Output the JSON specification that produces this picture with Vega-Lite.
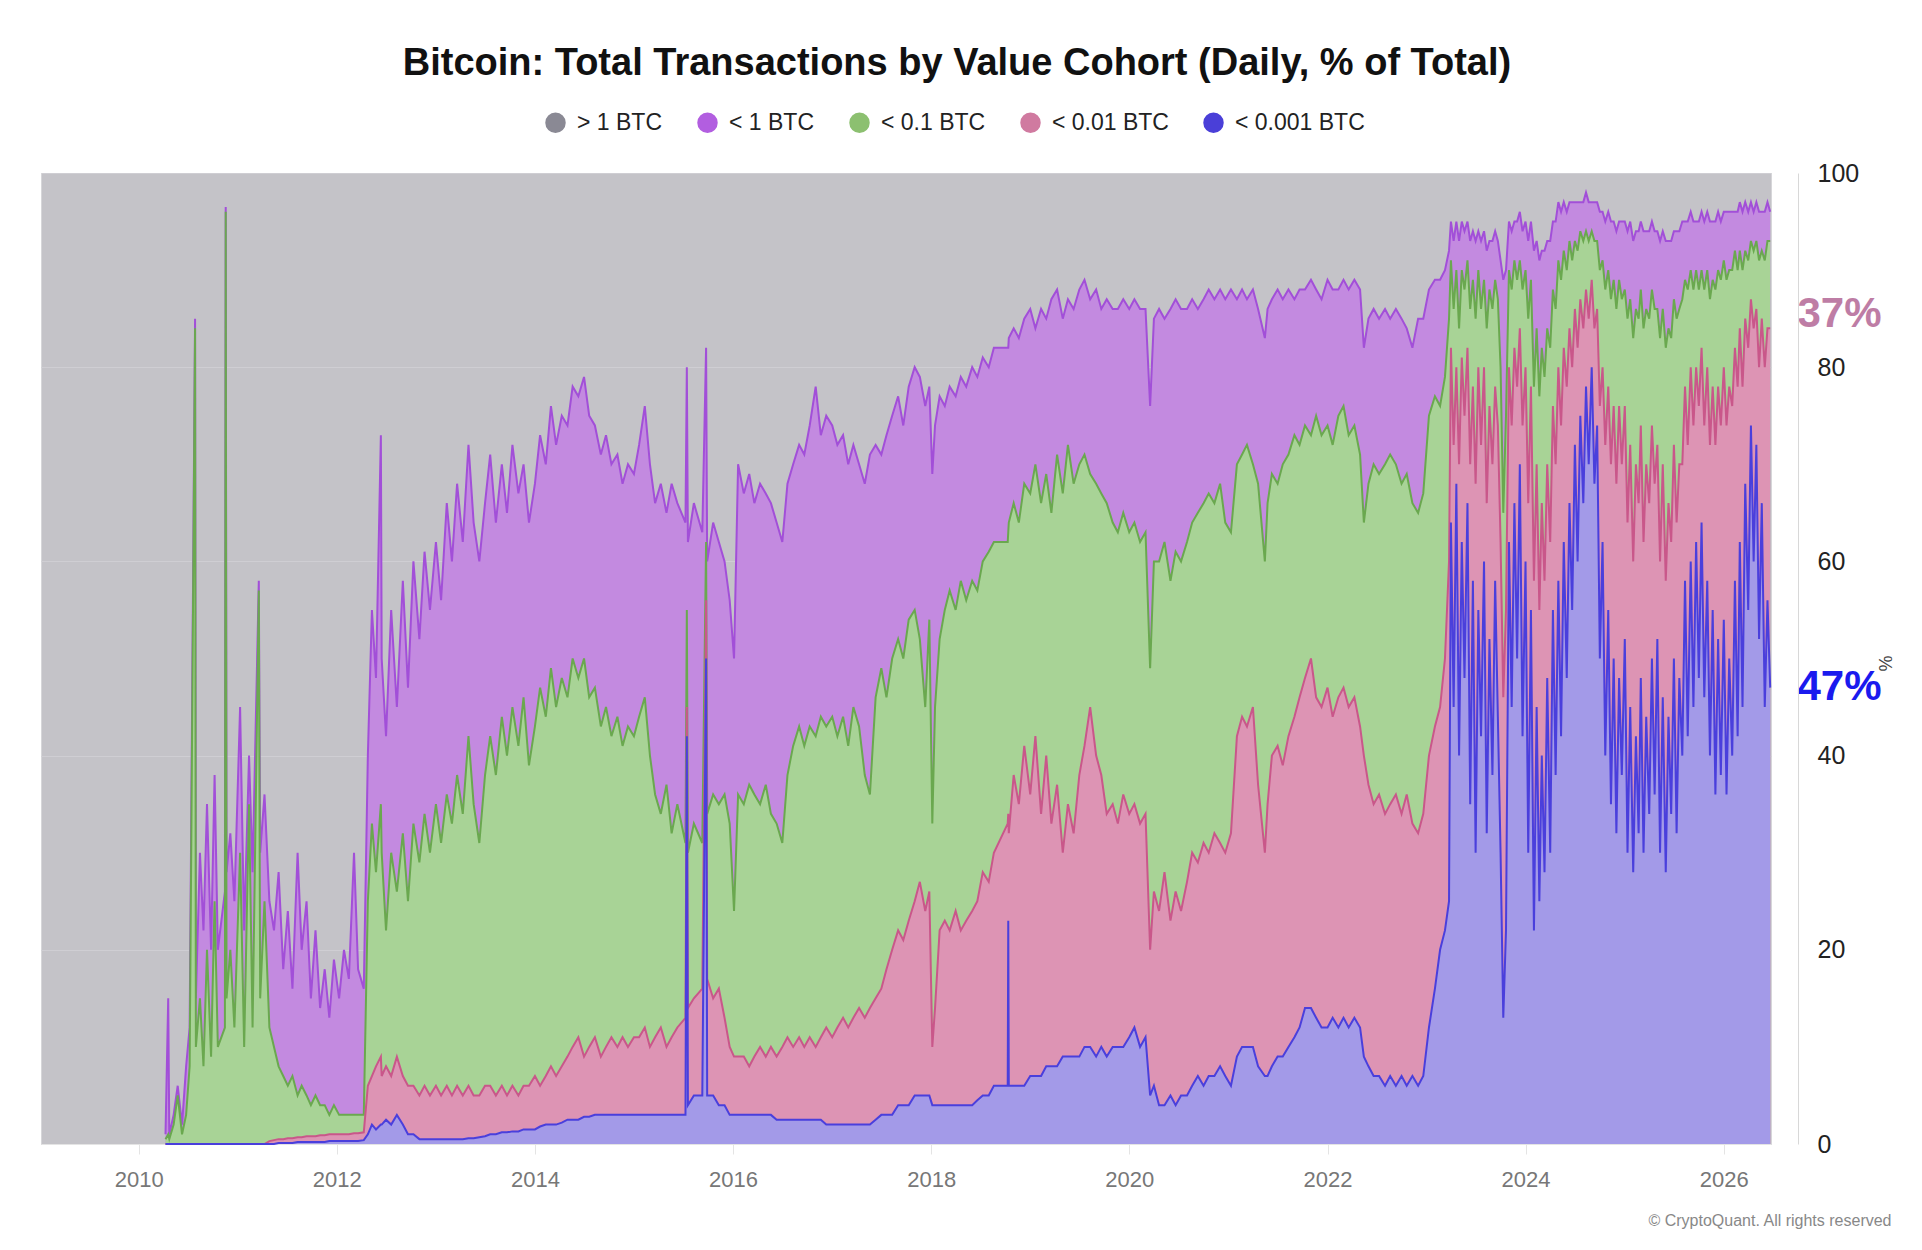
{
  "$schema": "https://vega.github.io/schema/vega-lite/v6.json",
  "width": 1730,
  "height": 971,
  "autosize": {"type": "none"},
  "padding": {"left": 41, "top": 173, "right": 151, "bottom": 106},
  "background": "white",
  "config": {
    "view": {"fill": "#c4c3c8", "stroke": "#d6d6d9"},
    "font": "Liberation Sans Narrow, Liberation Sans"
  },
  "title": {
    "text": "Bitcoin: Total Transactions by Value Cohort (Daily, % of Total)",
    "anchor": "middle",
    "frame": "group",
    "dx": 51,
    "offset": 28,
    "font": "Liberation Sans Narrow, Liberation Sans",
    "fontSize": 38,
    "fontWeight": "bold",
    "color": "#111111"
  },
  "datasets": {
    "tx": [
      {"d":"2010-04-10","a":0,"b":0,"c":0.5,"p":1},
      {"d":"2010-04-20","a":0,"b":0,"c":1,"p":15},
      {"d":"2010-04-24","a":0,"b":0,"c":0.5,"p":1},
      {"d":"2010-05-10","a":0,"b":0,"c":2,"p":3},
      {"d":"2010-05-25","a":0,"b":0,"c":5,"p":6},
      {"d":"2010-06-10","a":0,"b":0,"c":1,"p":2},
      {"d":"2010-06-25","a":0,"b":0,"c":3,"p":8},
      {"d":"2010-07-08","a":0,"b":0,"c":8,"p":12},
      {"d":"2010-07-28","a":0,"b":0,"c":84,"p":85},
      {"d":"2010-07-31","a":0,"b":0,"c":10,"p":15},
      {"d":"2010-08-15","a":0,"b":0,"c":15,"p":30},
      {"d":"2010-08-28","a":0,"b":0,"c":8,"p":22},
      {"d":"2010-09-10","a":0,"b":0,"c":20,"p":35},
      {"d":"2010-09-25","a":0,"b":0,"c":9,"p":20},
      {"d":"2010-10-08","a":0,"b":0,"c":25,"p":38},
      {"d":"2010-10-20","a":0,"b":0,"c":10,"p":20},
      {"d":"2010-11-15","a":0,"b":0,"c":12,"p":26},
      {"d":"2010-11-18","a":0,"b":0,"c":96,"p":96.5},
      {"d":"2010-11-21","a":0,"b":0,"c":15,"p":28},
      {"d":"2010-12-05","a":0,"b":0,"c":20,"p":32},
      {"d":"2010-12-20","a":0,"b":0,"c":12,"p":25},
      {"d":"2011-01-10","a":0,"b":0,"c":30,"p":45},
      {"d":"2011-01-25","a":0,"b":0,"c":10,"p":22},
      {"d":"2011-02-12","a":0,"b":0,"c":35,"p":40},
      {"d":"2011-02-25","a":0,"b":0,"c":12,"p":28},
      {"d":"2011-03-20","a":0,"b":0,"c":57,"p":58},
      {"d":"2011-03-25","a":0,"b":0,"c":15,"p":30},
      {"d":"2011-04-10","a":0,"b":0,"c":25,"p":36},
      {"d":"2011-04-28","a":0,"b":0.3,"c":12,"p":25},
      {"d":"2011-05-15","a":0,"b":0.4,"c":10,"p":22},
      {"d":"2011-06-01","a":0.1,"b":0.5,"c":8,"p":28},
      {"d":"2011-06-18","a":0.1,"b":0.5,"c":7,"p":18},
      {"d":"2011-07-05","a":0.1,"b":0.6,"c":6,"p":24},
      {"d":"2011-07-22","a":0.1,"b":0.6,"c":7,"p":16},
      {"d":"2011-08-10","a":0.2,"b":0.7,"c":5,"p":30},
      {"d":"2011-08-25","a":0.2,"b":0.7,"c":6,"p":20},
      {"d":"2011-09-12","a":0.2,"b":0.8,"c":5,"p":25},
      {"d":"2011-09-28","a":0.2,"b":0.8,"c":4,"p":15},
      {"d":"2011-10-15","a":0.2,"b":0.8,"c":5,"p":22},
      {"d":"2011-11-01","a":0.2,"b":0.9,"c":4,"p":14},
      {"d":"2011-11-18","a":0.2,"b":0.9,"c":4,"p":18},
      {"d":"2011-12-05","a":0.3,"b":1,"c":3,"p":13},
      {"d":"2011-12-22","a":0.3,"b":1,"c":4,"p":19},
      {"d":"2012-01-10","a":0.3,"b":1,"c":3,"p":15},
      {"d":"2012-01-28","a":0.3,"b":1,"c":3,"p":20},
      {"d":"2012-02-15","a":0.3,"b":1,"c":3,"p":17},
      {"d":"2012-03-05","a":0.3,"b":1.1,"c":3,"p":30},
      {"d":"2012-03-20","a":0.3,"b":1.1,"c":3,"p":18},
      {"d":"2012-04-10","a":0.4,"b":1.2,"c":3,"p":16},
      {"d":"2012-04-25","a":1,"b":6,"c":25,"p":40},
      {"d":"2012-05-10","a":2,"b":7,"c":33,"p":55},
      {"d":"2012-05-25","a":1.5,"b":8,"c":28,"p":48},
      {"d":"2012-06-12","a":2,"b":9,"c":35,"p":73},
      {"d":"2012-06-15","a":2,"b":7,"c":30,"p":50},
      {"d":"2012-07-01","a":2.5,"b":8,"c":22,"p":42},
      {"d":"2012-07-20","a":2,"b":7,"c":30,"p":55},
      {"d":"2012-08-10","a":3,"b":9,"c":26,"p":45},
      {"d":"2012-09-01","a":2,"b":7,"c":32,"p":58},
      {"d":"2012-09-20","a":1,"b":6,"c":25,"p":47},
      {"d":"2012-10-10","a":1,"b":6,"c":33,"p":60},
      {"d":"2012-11-01","a":0.5,"b":5,"c":29,"p":52},
      {"d":"2012-11-20","a":0.5,"b":6,"c":34,"p":61},
      {"d":"2012-12-10","a":0.5,"b":5,"c":30,"p":55},
      {"d":"2013-01-01","a":0.5,"b":6,"c":35,"p":62},
      {"d":"2013-01-20","a":0.5,"b":5,"c":31,"p":56},
      {"d":"2013-02-10","a":0.5,"b":6,"c":36,"p":66},
      {"d":"2013-03-01","a":0.5,"b":5,"c":33,"p":60},
      {"d":"2013-03-20","a":0.5,"b":6,"c":38,"p":68},
      {"d":"2013-04-10","a":0.5,"b":5,"c":34,"p":62},
      {"d":"2013-05-01","a":0.6,"b":6,"c":42,"p":72},
      {"d":"2013-05-20","a":0.6,"b":5,"c":35,"p":64},
      {"d":"2013-06-10","a":0.7,"b":5,"c":31,"p":60},
      {"d":"2013-07-01","a":0.8,"b":6,"c":38,"p":66},
      {"d":"2013-07-20","a":1,"b":6,"c":42,"p":71},
      {"d":"2013-08-10","a":1,"b":5,"c":38,"p":64},
      {"d":"2013-09-01","a":1.2,"b":6,"c":44,"p":70},
      {"d":"2013-09-20","a":1.2,"b":5,"c":40,"p":65},
      {"d":"2013-10-10","a":1.3,"b":6,"c":45,"p":72},
      {"d":"2013-11-01","a":1.3,"b":5,"c":41,"p":67},
      {"d":"2013-11-20","a":1.5,"b":6,"c":46,"p":70},
      {"d":"2013-12-10","a":1.5,"b":6,"c":39,"p":64},
      {"d":"2014-01-01","a":1.5,"b":7,"c":43,"p":68},
      {"d":"2014-01-20","a":1.8,"b":6,"c":47,"p":73},
      {"d":"2014-02-10","a":2,"b":7,"c":44,"p":70},
      {"d":"2014-03-01","a":2,"b":8,"c":49,"p":76},
      {"d":"2014-03-20","a":2,"b":7,"c":45,"p":72},
      {"d":"2014-04-10","a":2.2,"b":8,"c":48,"p":75},
      {"d":"2014-05-01","a":2.5,"b":9,"c":46,"p":74},
      {"d":"2014-05-20","a":2.5,"b":10,"c":50,"p":78},
      {"d":"2014-06-10","a":2.5,"b":11,"c":48,"p":77},
      {"d":"2014-07-01","a":2.8,"b":9,"c":50,"p":79},
      {"d":"2014-07-20","a":2.8,"b":10,"c":46,"p":75},
      {"d":"2014-08-10","a":3,"b":11,"c":47,"p":74},
      {"d":"2014-09-01","a":3,"b":9,"c":43,"p":71},
      {"d":"2014-09-20","a":3,"b":10,"c":45,"p":73},
      {"d":"2014-10-10","a":3,"b":11,"c":42,"p":70},
      {"d":"2014-11-01","a":3,"b":10,"c":44,"p":71},
      {"d":"2014-11-20","a":3,"b":11,"c":41,"p":68},
      {"d":"2014-12-10","a":3,"b":10,"c":43,"p":70},
      {"d":"2015-01-01","a":3,"b":11,"c":42,"p":69},
      {"d":"2015-01-20","a":3,"b":11,"c":44,"p":72},
      {"d":"2015-02-10","a":3,"b":12,"c":46,"p":76},
      {"d":"2015-03-01","a":3,"b":10,"c":40,"p":70},
      {"d":"2015-03-20","a":3,"b":11,"c":36,"p":66},
      {"d":"2015-04-10","a":3,"b":12,"c":34,"p":68},
      {"d":"2015-05-01","a":3,"b":10,"c":37,"p":65},
      {"d":"2015-05-20","a":3,"b":11,"c":32,"p":68},
      {"d":"2015-06-10","a":3,"b":12,"c":35,"p":66},
      {"d":"2015-07-10","a":3,"b":13,"c":31,"p":64},
      {"d":"2015-07-15","a":42,"b":45,"c":55,"p":80},
      {"d":"2015-07-19","a":4,"b":14,"c":30,"p":62},
      {"d":"2015-08-10","a":5,"b":15,"c":33,"p":66},
      {"d":"2015-09-10","a":5,"b":16,"c":31,"p":63},
      {"d":"2015-09-24","a":50,"b":56,"c":62,"p":82},
      {"d":"2015-09-28","a":5,"b":17,"c":34,"p":60},
      {"d":"2015-10-20","a":5,"b":15,"c":36,"p":64},
      {"d":"2015-11-10","a":4,"b":16,"c":35,"p":62},
      {"d":"2015-12-01","a":4,"b":13,"c":36,"p":60},
      {"d":"2015-12-20","a":3,"b":10,"c":33,"p":56},
      {"d":"2016-01-05","a":3,"b":9,"c":24,"p":50},
      {"d":"2016-01-20","a":3,"b":9,"c":36,"p":70},
      {"d":"2016-02-10","a":3,"b":9,"c":35,"p":67},
      {"d":"2016-03-01","a":3,"b":8,"c":37,"p":69},
      {"d":"2016-03-20","a":3,"b":9,"c":36,"p":66},
      {"d":"2016-04-10","a":3,"b":10,"c":35,"p":68},
      {"d":"2016-05-01","a":3,"b":9,"c":37,"p":67},
      {"d":"2016-05-20","a":3,"b":10,"c":34,"p":66},
      {"d":"2016-06-10","a":2.5,"b":9,"c":33,"p":64},
      {"d":"2016-07-01","a":2.5,"b":10,"c":31,"p":62},
      {"d":"2016-07-20","a":2.5,"b":11,"c":38,"p":68},
      {"d":"2016-08-10","a":2.5,"b":10,"c":41,"p":70},
      {"d":"2016-09-01","a":2.5,"b":11,"c":43,"p":72},
      {"d":"2016-09-20","a":2.5,"b":10,"c":41,"p":71},
      {"d":"2016-10-10","a":2.5,"b":11,"c":43,"p":74},
      {"d":"2016-11-01","a":2.5,"b":10,"c":42,"p":78},
      {"d":"2016-11-20","a":2.5,"b":11,"c":44,"p":73},
      {"d":"2016-12-10","a":2,"b":12,"c":43,"p":75},
      {"d":"2017-01-01","a":2,"b":11,"c":44,"p":74},
      {"d":"2017-01-20","a":2,"b":12,"c":42,"p":72},
      {"d":"2017-02-10","a":2,"b":13,"c":44,"p":73},
      {"d":"2017-03-01","a":2,"b":12,"c":41,"p":70},
      {"d":"2017-03-20","a":2,"b":13,"c":45,"p":72},
      {"d":"2017-04-10","a":2,"b":14,"c":43,"p":70},
      {"d":"2017-05-01","a":2,"b":13,"c":38,"p":68},
      {"d":"2017-05-20","a":2,"b":14,"c":36,"p":71},
      {"d":"2017-06-10","a":2.5,"b":15,"c":46,"p":72},
      {"d":"2017-07-01","a":3,"b":16,"c":49,"p":71},
      {"d":"2017-07-20","a":3,"b":18,"c":46,"p":73},
      {"d":"2017-08-10","a":3,"b":20,"c":50,"p":75},
      {"d":"2017-09-01","a":4,"b":22,"c":52,"p":77},
      {"d":"2017-09-20","a":4,"b":21,"c":50,"p":74},
      {"d":"2017-10-10","a":4,"b":23,"c":54,"p":78},
      {"d":"2017-11-01","a":5,"b":25,"c":55,"p":80},
      {"d":"2017-11-20","a":5,"b":27,"c":52,"p":79},
      {"d":"2017-12-10","a":5,"b":24,"c":45,"p":76},
      {"d":"2017-12-25","a":5,"b":26,"c":54,"p":78},
      {"d":"2018-01-05","a":4,"b":10,"c":33,"p":69},
      {"d":"2018-01-15","a":4,"b":14,"c":45,"p":74},
      {"d":"2018-02-01","a":4,"b":22,"c":52,"p":77},
      {"d":"2018-02-20","a":4,"b":23,"c":55,"p":76},
      {"d":"2018-03-10","a":4,"b":22,"c":57,"p":78},
      {"d":"2018-04-01","a":4,"b":24,"c":55,"p":77},
      {"d":"2018-04-20","a":4,"b":22,"c":58,"p":79},
      {"d":"2018-05-10","a":4,"b":23,"c":56,"p":78},
      {"d":"2018-06-01","a":4,"b":24,"c":58,"p":80},
      {"d":"2018-06-20","a":4.5,"b":25,"c":57,"p":79},
      {"d":"2018-07-10","a":5,"b":28,"c":60,"p":81},
      {"d":"2018-08-01","a":5,"b":27,"c":61,"p":80},
      {"d":"2018-08-20","a":6,"b":30,"c":62,"p":82},
      {"d":"2018-10-10","a":6,"b":33,"c":62,"p":82},
      {"d":"2018-10-12","a":23,"b":34,"c":63,"p":82},
      {"d":"2018-10-14","a":6,"b":32,"c":64,"p":83},
      {"d":"2018-11-01","a":6,"b":38,"c":66,"p":84},
      {"d":"2018-11-20","a":6,"b":35,"c":64,"p":83},
      {"d":"2018-12-10","a":6,"b":41,"c":68,"p":85},
      {"d":"2019-01-01","a":7,"b":36,"c":67,"p":86},
      {"d":"2019-01-20","a":7,"b":42,"c":70,"p":84},
      {"d":"2019-02-10","a":7,"b":34,"c":66,"p":86},
      {"d":"2019-03-01","a":8,"b":40,"c":69,"p":85},
      {"d":"2019-03-20","a":8,"b":33,"c":65,"p":87},
      {"d":"2019-04-10","a":8,"b":37,"c":71,"p":88},
      {"d":"2019-05-01","a":9,"b":30,"c":67,"p":85},
      {"d":"2019-05-20","a":9,"b":35,"c":72,"p":87},
      {"d":"2019-06-10","a":9,"b":32,"c":68,"p":86},
      {"d":"2019-07-01","a":9,"b":38,"c":70,"p":88},
      {"d":"2019-07-20","a":10,"b":41,"c":71,"p":89},
      {"d":"2019-08-10","a":10,"b":45,"c":69,"p":87},
      {"d":"2019-09-01","a":9,"b":40,"c":68,"p":88},
      {"d":"2019-09-20","a":10,"b":38,"c":67,"p":86},
      {"d":"2019-10-10","a":9,"b":34,"c":66,"p":87},
      {"d":"2019-11-01","a":10,"b":35,"c":64,"p":86},
      {"d":"2019-11-20","a":10,"b":33,"c":63,"p":86},
      {"d":"2019-12-10","a":10,"b":36,"c":65,"p":87},
      {"d":"2020-01-01","a":11,"b":34,"c":63,"p":86},
      {"d":"2020-01-20","a":12,"b":35,"c":64,"p":87},
      {"d":"2020-02-10","a":10,"b":33,"c":62,"p":86},
      {"d":"2020-03-01","a":11,"b":34,"c":63,"p":86},
      {"d":"2020-03-18","a":5,"b":20,"c":49,"p":76},
      {"d":"2020-04-01","a":6,"b":26,"c":60,"p":85},
      {"d":"2020-04-20","a":4,"b":24,"c":60,"p":86},
      {"d":"2020-05-10","a":4,"b":28,"c":62,"p":85},
      {"d":"2020-06-01","a":5,"b":23,"c":58,"p":86},
      {"d":"2020-06-20","a":4,"b":26,"c":61,"p":87},
      {"d":"2020-07-10","a":5,"b":24,"c":60,"p":86},
      {"d":"2020-08-01","a":5,"b":27,"c":62,"p":86},
      {"d":"2020-08-20","a":6,"b":30,"c":64,"p":87},
      {"d":"2020-09-10","a":7,"b":29,"c":65,"p":86},
      {"d":"2020-10-01","a":6,"b":31,"c":66,"p":87},
      {"d":"2020-10-20","a":7,"b":30,"c":67,"p":88},
      {"d":"2020-11-10","a":7,"b":32,"c":66,"p":87},
      {"d":"2020-12-01","a":8,"b":31,"c":68,"p":88},
      {"d":"2020-12-20","a":7,"b":30,"c":64,"p":87},
      {"d":"2021-01-10","a":6,"b":32,"c":63,"p":88},
      {"d":"2021-02-01","a":9,"b":42,"c":70,"p":87},
      {"d":"2021-02-20","a":10,"b":44,"c":71,"p":88},
      {"d":"2021-03-10","a":10,"b":43,"c":72,"p":87},
      {"d":"2021-04-01","a":10,"b":45,"c":70,"p":88},
      {"d":"2021-04-20","a":8,"b":37,"c":68,"p":86},
      {"d":"2021-05-15","a":7,"b":30,"c":60,"p":83},
      {"d":"2021-05-25","a":7,"b":35,"c":66,"p":86},
      {"d":"2021-06-10","a":8,"b":40,"c":69,"p":87},
      {"d":"2021-07-01","a":9,"b":41,"c":68,"p":88},
      {"d":"2021-07-20","a":9,"b":39,"c":70,"p":87},
      {"d":"2021-08-10","a":10,"b":42,"c":71,"p":88},
      {"d":"2021-09-01","a":11,"b":44,"c":73,"p":87},
      {"d":"2021-09-20","a":12,"b":46,"c":72,"p":88},
      {"d":"2021-10-10","a":14,"b":48,"c":74,"p":88},
      {"d":"2021-11-01","a":14,"b":50,"c":73,"p":89},
      {"d":"2021-11-20","a":13,"b":46,"c":75,"p":88},
      {"d":"2021-12-10","a":12,"b":45,"c":73,"p":87},
      {"d":"2022-01-01","a":12,"b":47,"c":74,"p":89},
      {"d":"2022-01-20","a":13,"b":44,"c":72,"p":88},
      {"d":"2022-02-10","a":12,"b":46,"c":75,"p":88},
      {"d":"2022-03-01","a":13,"b":47,"c":76,"p":89},
      {"d":"2022-03-20","a":12,"b":45,"c":73,"p":88},
      {"d":"2022-04-10","a":13,"b":46,"c":74,"p":89},
      {"d":"2022-05-01","a":12,"b":43,"c":71,"p":88},
      {"d":"2022-05-15","a":9,"b":40,"c":64,"p":82},
      {"d":"2022-06-01","a":8,"b":37,"c":68,"p":85},
      {"d":"2022-06-20","a":7,"b":35,"c":70,"p":86},
      {"d":"2022-07-10","a":7,"b":36,"c":69,"p":85},
      {"d":"2022-08-01","a":6,"b":34,"c":70,"p":86},
      {"d":"2022-08-20","a":7,"b":35,"c":71,"p":85},
      {"d":"2022-09-10","a":6,"b":36,"c":70,"p":86},
      {"d":"2022-10-01","a":7,"b":34,"c":68,"p":85},
      {"d":"2022-10-20","a":6,"b":36,"c":69,"p":84},
      {"d":"2022-11-10","a":7,"b":33,"c":66,"p":82},
      {"d":"2022-12-01","a":6,"b":32,"c":65,"p":85},
      {"d":"2022-12-20","a":7,"b":34,"c":67,"p":85},
      {"d":"2023-01-10","a":12,"b":40,"c":75,"p":88},
      {"d":"2023-02-01","a":16,"b":43,"c":77,"p":89},
      {"d":"2023-02-20","a":20,"b":45,"c":76,"p":89},
      {"d":"2023-03-10","a":22,"b":50,"c":79,"p":90},
      {"d":"2023-03-25","a":25,"b":60,"c":85,"p":92},
      {"d":"2023-04-01","a":64,"b":82,"c":91,"p":95},
      {"d":"2023-04-11","a":45,"b":72,"c":86,"p":93},
      {"d":"2023-04-21","a":68,"b":80,"c":90,"p":95},
      {"d":"2023-05-01","a":40,"b":70,"c":84,"p":93},
      {"d":"2023-05-11","a":62,"b":81,"c":90,"p":95},
      {"d":"2023-05-21","a":48,"b":75,"c":88,"p":94},
      {"d":"2023-06-01","a":66,"b":82,"c":91,"p":95},
      {"d":"2023-06-11","a":35,"b":70,"c":86,"p":93},
      {"d":"2023-06-21","a":58,"b":78,"c":89,"p":94},
      {"d":"2023-07-01","a":30,"b":68,"c":85,"p":93},
      {"d":"2023-07-11","a":55,"b":80,"c":90,"p":94},
      {"d":"2023-07-21","a":42,"b":72,"c":86,"p":93},
      {"d":"2023-08-01","a":60,"b":80,"c":89,"p":94},
      {"d":"2023-08-11","a":32,"b":66,"c":84,"p":92},
      {"d":"2023-08-21","a":52,"b":76,"c":88,"p":93},
      {"d":"2023-09-01","a":38,"b":70,"c":86,"p":93},
      {"d":"2023-09-11","a":58,"b":78,"c":89,"p":94},
      {"d":"2023-09-21","a":44,"b":74,"c":87,"p":93},
      {"d":"2023-10-01","a":30,"b":62,"c":80,"p":91},
      {"d":"2023-10-11","a":13,"b":46,"c":65,"p":89},
      {"d":"2023-10-21","a":22,"b":55,"c":75,"p":90},
      {"d":"2023-11-01","a":62,"b":80,"c":90,"p":95},
      {"d":"2023-11-11","a":45,"b":74,"c":88,"p":94},
      {"d":"2023-11-21","a":66,"b":82,"c":91,"p":95},
      {"d":"2023-12-01","a":50,"b":78,"c":89,"p":95},
      {"d":"2023-12-11","a":70,"b":84,"c":91,"p":96},
      {"d":"2023-12-21","a":42,"b":74,"c":88,"p":94},
      {"d":"2024-01-01","a":60,"b":80,"c":90,"p":95},
      {"d":"2024-01-11","a":30,"b":66,"c":85,"p":93},
      {"d":"2024-01-21","a":55,"b":78,"c":89,"p":95},
      {"d":"2024-02-01","a":22,"b":58,"c":78,"p":92},
      {"d":"2024-02-11","a":45,"b":70,"c":84,"p":93},
      {"d":"2024-02-21","a":25,"b":55,"c":77,"p":91},
      {"d":"2024-03-01","a":40,"b":66,"c":82,"p":92},
      {"d":"2024-03-11","a":28,"b":58,"c":79,"p":92},
      {"d":"2024-03-21","a":48,"b":70,"c":84,"p":93},
      {"d":"2024-04-01","a":30,"b":62,"c":82,"p":93},
      {"d":"2024-04-11","a":55,"b":76,"c":88,"p":95},
      {"d":"2024-04-21","a":38,"b":70,"c":86,"p":95},
      {"d":"2024-05-01","a":58,"b":80,"c":91,"p":97},
      {"d":"2024-05-11","a":42,"b":74,"c":89,"p":96},
      {"d":"2024-05-21","a":62,"b":82,"c":92,"p":97},
      {"d":"2024-06-01","a":48,"b":78,"c":90,"p":96},
      {"d":"2024-06-11","a":66,"b":84,"c":93,"p":97},
      {"d":"2024-06-21","a":55,"b":80,"c":91,"p":97},
      {"d":"2024-07-01","a":72,"b":86,"c":93,"p":97},
      {"d":"2024-07-11","a":60,"b":82,"c":92,"p":97},
      {"d":"2024-07-21","a":75,"b":87,"c":94,"p":97},
      {"d":"2024-08-01","a":66,"b":84,"c":93,"p":97},
      {"d":"2024-08-11","a":78,"b":88,"c":94,"p":98},
      {"d":"2024-08-21","a":70,"b":85,"c":93,"p":97},
      {"d":"2024-09-01","a":80,"b":89,"c":94,"p":97},
      {"d":"2024-09-11","a":68,"b":84,"c":93,"p":97},
      {"d":"2024-09-21","a":74,"b":86,"c":93,"p":97},
      {"d":"2024-10-01","a":50,"b":76,"c":90,"p":96},
      {"d":"2024-10-11","a":62,"b":80,"c":91,"p":96},
      {"d":"2024-10-21","a":40,"b":72,"c":88,"p":95},
      {"d":"2024-11-01","a":55,"b":78,"c":90,"p":96},
      {"d":"2024-11-11","a":35,"b":70,"c":87,"p":95},
      {"d":"2024-11-21","a":50,"b":76,"c":89,"p":95},
      {"d":"2024-12-01","a":32,"b":68,"c":86,"p":94},
      {"d":"2024-12-11","a":48,"b":76,"c":89,"p":95},
      {"d":"2024-12-21","a":38,"b":70,"c":87,"p":95},
      {"d":"2025-01-01","a":52,"b":76,"c":88,"p":95},
      {"d":"2025-01-11","a":30,"b":64,"c":85,"p":94},
      {"d":"2025-01-21","a":45,"b":72,"c":87,"p":95},
      {"d":"2025-02-01","a":28,"b":60,"c":83,"p":93},
      {"d":"2025-02-11","a":42,"b":70,"c":86,"p":94},
      {"d":"2025-02-21","a":32,"b":66,"c":85,"p":94},
      {"d":"2025-03-01","a":48,"b":74,"c":88,"p":95},
      {"d":"2025-03-11","a":30,"b":62,"c":84,"p":94},
      {"d":"2025-03-21","a":44,"b":70,"c":86,"p":94},
      {"d":"2025-04-01","a":34,"b":66,"c":85,"p":94},
      {"d":"2025-04-11","a":50,"b":74,"c":88,"p":95},
      {"d":"2025-04-21","a":36,"b":68,"c":86,"p":94},
      {"d":"2025-05-01","a":52,"b":72,"c":86,"p":94},
      {"d":"2025-05-11","a":30,"b":60,"c":83,"p":93},
      {"d":"2025-05-21","a":46,"b":70,"c":86,"p":94},
      {"d":"2025-06-01","a":28,"b":58,"c":82,"p":93},
      {"d":"2025-06-11","a":44,"b":66,"c":84,"p":93},
      {"d":"2025-06-21","a":34,"b":62,"c":83,"p":93},
      {"d":"2025-07-01","a":50,"b":72,"c":87,"p":94},
      {"d":"2025-07-11","a":32,"b":64,"c":85,"p":94},
      {"d":"2025-07-21","a":48,"b":70,"c":86,"p":94},
      {"d":"2025-08-01","a":40,"b":70,"c":87,"p":95},
      {"d":"2025-08-11","a":58,"b":78,"c":89,"p":95},
      {"d":"2025-08-21","a":42,"b":72,"c":88,"p":95},
      {"d":"2025-09-01","a":60,"b":80,"c":90,"p":96},
      {"d":"2025-09-11","a":45,"b":74,"c":88,"p":95},
      {"d":"2025-09-21","a":62,"b":80,"c":90,"p":95},
      {"d":"2025-10-01","a":48,"b":76,"c":88,"p":95},
      {"d":"2025-10-11","a":64,"b":82,"c":90,"p":96},
      {"d":"2025-10-21","a":46,"b":74,"c":88,"p":95},
      {"d":"2025-11-01","a":58,"b":80,"c":90,"p":96},
      {"d":"2025-11-11","a":40,"b":72,"c":87,"p":95},
      {"d":"2025-11-21","a":55,"b":78,"c":89,"p":95},
      {"d":"2025-12-01","a":36,"b":72,"c":88,"p":95},
      {"d":"2025-12-11","a":52,"b":78,"c":90,"p":96},
      {"d":"2025-12-21","a":38,"b":74,"c":89,"p":95},
      {"d":"2026-01-01","a":54,"b":80,"c":91,"p":96},
      {"d":"2026-01-11","a":36,"b":74,"c":89,"p":96},
      {"d":"2026-01-21","a":50,"b":78,"c":90,"p":96},
      {"d":"2026-02-01","a":40,"b":76,"c":90,"p":96},
      {"d":"2026-02-11","a":58,"b":82,"c":92,"p":96},
      {"d":"2026-02-21","a":42,"b":78,"c":90,"p":96},
      {"d":"2026-03-01","a":62,"b":84,"c":92,"p":97},
      {"d":"2026-03-11","a":45,"b":78,"c":90,"p":96},
      {"d":"2026-03-21","a":68,"b":85,"c":92,"p":97},
      {"d":"2026-04-01","a":55,"b":82,"c":91,"p":96},
      {"d":"2026-04-11","a":74,"b":87,"c":93,"p":97},
      {"d":"2026-04-21","a":60,"b":84,"c":92,"p":96},
      {"d":"2026-05-01","a":72,"b":86,"c":93,"p":97},
      {"d":"2026-05-11","a":52,"b":80,"c":91,"p":96},
      {"d":"2026-05-21","a":66,"b":85,"c":92,"p":96},
      {"d":"2026-06-01","a":45,"b":80,"c":91,"p":96},
      {"d":"2026-06-11","a":56,"b":84,"c":93,"p":97},
      {"d":"2026-06-21","a":47,"b":84,"c":93,"p":96}
    ]
  },
  "encoding": {
    "x": {
      "field": "d", "type": "temporal",
      "scale": {"domain": [{"year": 2009, "month": 1, "date": 6}, {"year": 2026, "month": 6, "date": 24}]},
      "axis": {
        "title": "© CryptoQuant. All rights reserved",
        "titleX": 1850, "titleY": 76, "titleAlign": "right", "titleBaseline": "middle", "titleAnchor": "end",
        "titleFont": "Liberation Sans Narrow, Liberation Sans", "titleFontSize": 16, "titleFontWeight": "normal", "titleColor": "#888888",
        "format": "%Y", "tickCount": {"interval": "year", "step": 2},
        "grid": false, "domainColor": "#e4e4e4", "tickColor": "#e4e4e4", "tickSize": 10,
        "labelPadding": 15, "labelFontSize": 22, "labelColor": "#777777",
        "labelFont": "Liberation Sans Narrow, Liberation Sans"
      }
    },
    "y": {
      "field": "p", "type": "quantitative",
      "scale": {"domain": [0, 100], "nice": false},
      "axis": {
        "orient": "right", "offset": 27, "title": "%", "titleX": 76, "titleY": 490,
        "values": [0, 20, 40, 47.1, 60, 80, 85.5, 100],
        "labelExpr": "datum.value == 85.5 ? '37%' : (datum.value == 47.1 ? '47%' : datum.label)",
        "labelOverlap": false, "labelBound": false, "labelFlush": false,
        "ticks": false, "domainColor": "#d8d8d8",
        "labelPadding": {"condition": {"test": "datum.value == 85.5 || datum.value == 47.1", "value": -1}, "value": 19},
        "labelFont": "Liberation Sans",
        "labelFontSize": {"condition": {"test": "datum.value == 85.5 || datum.value == 47.1", "value": 42}, "value": 25},
        "labelFontWeight": {"condition": {"test": "datum.value == 85.5 || datum.value == 47.1", "value": "bold"}, "value": "normal"},
        "labelColor": {"condition": [{"test": "datum.value == 85.5", "value": "#be7da5"}, {"test": "datum.value == 47.1", "value": "#1a1aee"}], "value": "#222222"},
        "titleFont": "Liberation Sans", "titleFontSize": 18, "titleFontWeight": "normal", "titleColor": "#444444",
        "grid": true, "gridColor": "#cfced3", "gridWidth": 1,
        "gridOpacity": {"condition": {"test": "datum.value == 85.5 || datum.value == 47.1", "value": 0}, "value": 1}
      }
    }
  },
  "layer": [
    {
      "data": {"name": "tx"},
      "mark": {"type": "area", "fill": "#c38ae0", "opacity": 1, "fillOpacity": 1, "line": {"color": "#a24fd8", "strokeWidth": 2}}
    },
    {
      "data": {"name": "tx"},
      "mark": {"type": "area", "fill": "#a8d396", "opacity": 1, "fillOpacity": 1, "line": {"color": "#6aa84f", "strokeWidth": 2}},
      "encoding": {
        "y": {"field": "c", "type": "quantitative"}
      }
    },
    {
      "data": {"name": "tx"},
      "mark": {"type": "area", "fill": "#dd94b4", "opacity": 1, "fillOpacity": 1, "line": {"color": "#c9578a", "strokeWidth": 2}},
      "encoding": {
        "y": {"field": "b", "type": "quantitative"}
      }
    },
    {
      "data": {"name": "tx"},
      "mark": {"type": "area", "fill": "#a39ae8", "opacity": 1, "fillOpacity": 1, "line": {"color": "#4a3fdc", "strokeWidth": 2}},
      "encoding": {
        "y": {"field": "a", "type": "quantitative"}
      }
    },
    {
      "data": {"values": [{"k": "> 1 BTC"}, {"k": "< 1 BTC"}, {"k": "< 0.1 BTC"}, {"k": "< 0.01 BTC"}, {"k": "< 0.001 BTC"}]},
      "mark": {"type": "point", "filled": true, "opacity": 0},
      "encoding": {
        "color": {
          "field": "k", "type": "nominal",
          "scale": {"domain": ["> 1 BTC", "< 1 BTC", "< 0.1 BTC", "< 0.01 BTC", "< 0.001 BTC"], "range": ["#8a8994", "#b25ee0", "#8cc070", "#d07aa0", "#4a3fd8"]},
          "legend": {
            "title": null, "orient": "none", "direction": "horizontal", "legendX": 503, "legendY": -62,
            "symbolType": "circle", "symbolSize": 420, "symbolOpacity": 1, "symbolStrokeWidth": 0,
            "labelFont": "Liberation Sans Narrow, Liberation Sans", "labelFontSize": 23, "labelColor": "#222222",
            "labelOffset": 10, "columnPadding": 33, "padding": 0
          }
        }
      }
    }
  ]
}
